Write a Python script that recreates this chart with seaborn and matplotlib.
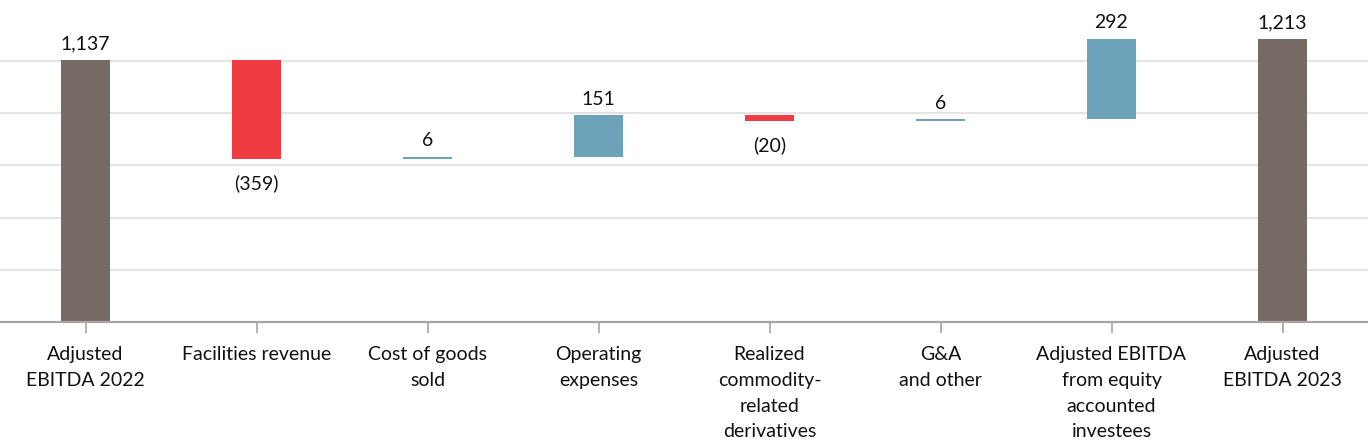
import numpy as np
import pandas as pd
import matplotlib
matplotlib.use("Agg")
import matplotlib.pyplot as plt
import seaborn as sns

categories = ["Adjusted\nEBITDA 2022", "Facilities revenue", "Cost of goods\nsold",
              "Operating\nexpenses", "Realized\ncommodity-\nrelated\nderivatives",
              "G&A\nand other", "Adjusted EBITDA\nfrom equity\naccounted\ninvestees",
              "Adjusted\nEBITDA 2023"]
start_value = 1137
changes = [-359, 6, 151, -20, 6, 292]
end_value = 1213

C_TOTAL = "#766A64"
C_NEG = "#EE3C42"
C_POS = "#6CA2BA"

# waterfall geometry derived from the data
values = [start_value] + changes + [end_value]
bottoms, heights, kinds = [], [], []
level = start_value
bottoms.append(0); heights.append(start_value); kinds.append("total")
for c in changes:
    new = level + c
    bottoms.append(min(level, new)); heights.append(abs(c))
    kinds.append("pos" if c > 0 else "neg")
    level = new
bottoms.append(0); heights.append(end_value); kinds.append("total")
colors = [C_TOTAL if k == "total" else (C_POS if k == "pos" else C_NEG) for k in kinds]

df = pd.DataFrame({"cat": categories, "h": heights})

sns.set_theme(style="white")
plt.rcParams["font.family"] = ["Lato", "DejaVu Sans"]

FS = 14

fig = plt.figure(figsize=(13.68, 4.40), dpi=100)
ax = fig.add_axes([0.0, (440 - 322) / 440, 1.0, 322 / 440])

sns.barplot(data=df, x="cat", y="h", hue="cat", palette=colors, legend=False,
            width=0.29, ax=ax, saturation=1, edgecolor="none", linewidth=0)

for patch, b in zip(ax.patches, bottoms):
    patch.set_y(b)

ymin, ymax = 184, 1355
ax.set_ylim(ymin, ymax)
ax.set_xlim(-0.5, 7.5)
ax.set_yticks(np.arange(ymin + 190, ymax - 100, 190))
ax.yaxis.grid(True, color="#E4E4E4", linewidth=1.5)
ax.set_axisbelow(True)
ax.tick_params(axis="y", left=False, labelleft=False)
ax.tick_params(axis="x", bottom=True, length=8, width=1.2, color="#A6A6A6",
               pad=9.5, labelsize=FS, labelcolor="#111111")
for lbl in ax.get_xticklabels():
    lbl.set_linespacing(1.62)
    lbl.set_verticalalignment("top")
for s in ["top", "left", "right"]:
    ax.spines[s].set_visible(False)
ax.spines["bottom"].set_color("#A6A6A6")
ax.spines["bottom"].set_linewidth(1.6)
ax.set_xlabel("")
ax.set_ylabel("")

for i, (v, b, h, k) in enumerate(zip(values, bottoms, heights, kinds)):
    if v < 0:
        txt = "({:,})".format(abs(v))
        ax.annotate(txt, (i, b), xytext=(0, -11), textcoords="offset points",
                    ha="center", va="top", fontsize=FS, color="#111111")
    else:
        txt = "{:,}".format(v)
        ax.annotate(txt, (i, b + h), xytext=(0, 5.5), textcoords="offset points",
                    ha="center", va="bottom", fontsize=FS, color="#111111")

fig.savefig("out.png", dpi=100)
